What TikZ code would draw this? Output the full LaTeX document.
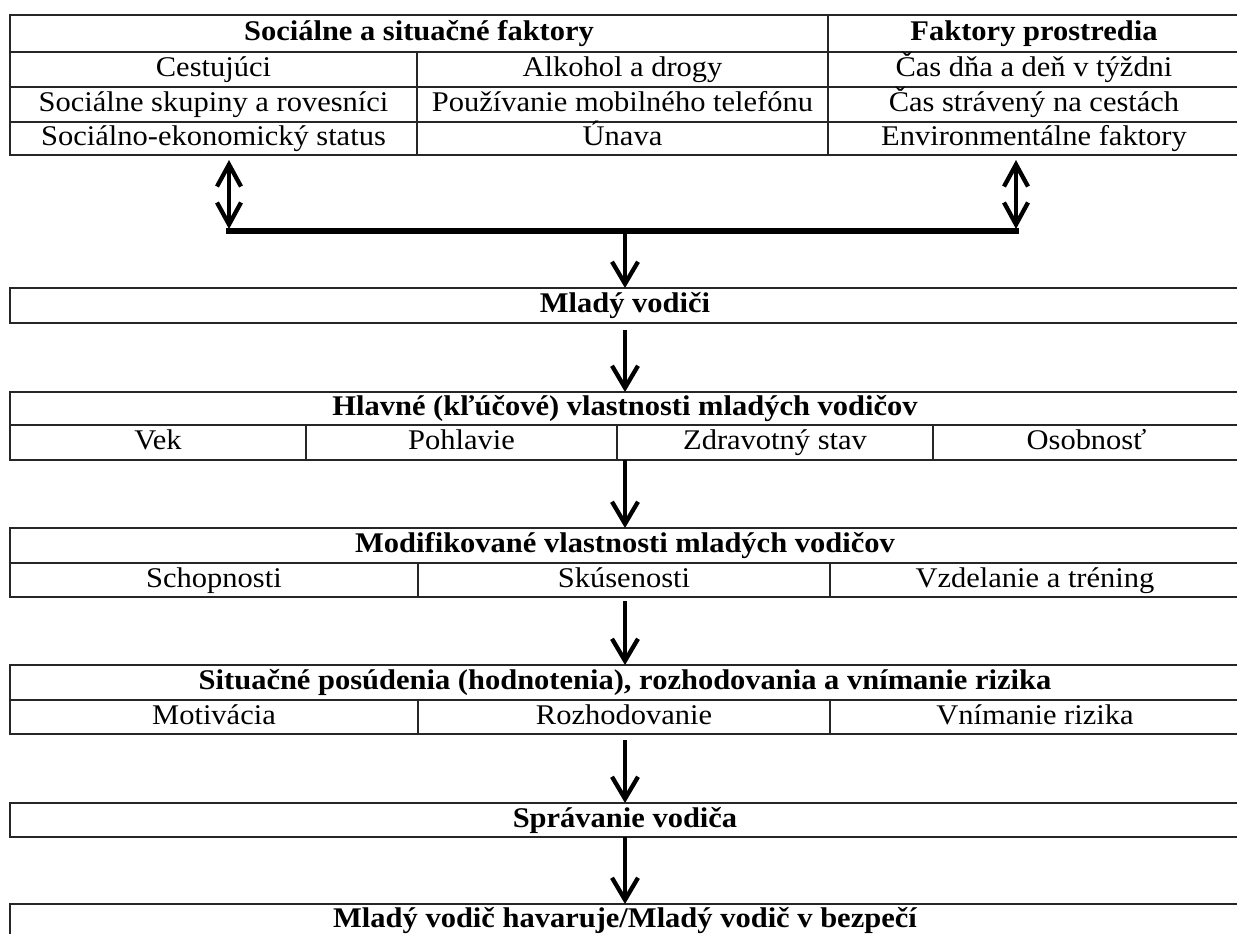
\documentclass[tikz,border=0pt]{standalone}
\usepackage{fontspec}
\setmainfont{Liberation Serif}[FakeStretch=1.07]
\usetikzlibrary{arrows.meta,calc}
\newcommand\mkcell[6]{\node[cell,minimum width={(#4-#2)*1pt},minimum height={(#5-#3)*1pt}] (#1) at ({(#2+#4)/2},{(#3+#5)/2}) {#6};}
\begin{document}
\begin{tikzpicture}[x=1pt,y=-1pt,
  cell/.style={draw=black!85,line width=1.8pt,inner sep=0pt,outer sep=0pt,
    font=\fontsize{28.5}{31}\selectfont,text height=20pt,text depth=6pt},
  arr/.style={line width=4.3pt,-{Straight Barb[length=22pt,width=26pt]}},
  dbl/.style={line width=4.3pt,{Straight Barb[length=22pt,width=24pt]}-{Straight Barb[length=22pt,width=24pt]}},
  bar/.style={line width=6pt}]
\clip (0,0) rectangle (1237,934);
% top table
\mkcell{sT}{10}{15}{828}{52}{\bfseries Sociálne a situačné faktory}
\mkcell{fT}{828}{15}{1240}{52}{\bfseries Faktory prostredia}
\mkcell{a1}{10}{52}{417}{87}{Cestujúci}
\mkcell{b1}{417}{52}{828}{87}{Alkohol a drogy}
\mkcell{c1}{828}{52}{1240}{87}{Čas dňa a deň v týždni}
\mkcell{a2}{10}{87}{417}{122}{Sociálne skupiny a rovesníci}
\mkcell{b2}{417}{87}{828}{122}{Používanie mobilného telefónu}
\mkcell{c2}{828}{87}{1240}{122}{Čas strávený na cestách}
\mkcell{a3}{10}{122}{417}{155}{Sociálno-ekonomický status}
\mkcell{b3}{417}{122}{828}{155}{Únava}
\mkcell{c3}{828}{122}{1240}{155}{Environmentálne faktory}
% junction
\coordinate (bl) at (229,231);
\coordinate (br) at (1016,231);
\coordinate (bm) at (625,231);
\draw[bar,line cap=rect] (bl) -- (br);
\draw[dbl] ([yshift=-5pt]a3.south -| bl) -- ([yshift=2pt]bl);
\draw[dbl] ([yshift=-5pt]c3.south -| br) -- ([yshift=2pt]br);
% Mlady vodici
\mkcell{ml}{10}{288}{1240}{323}{\bfseries Mladý vodiči}
\draw[arr] (bm) -- (ml.north);
% Hlavne
\mkcell{hT}{10}{392}{1240}{425}{\bfseries Hlavné (kľúčové) vlastnosti mladých vodičov}
\mkcell{h1}{10}{425}{306}{460}{Vek}
\mkcell{h2}{306}{425}{617}{460}{Pohlavie}
\mkcell{h3}{617}{425}{933}{460}{Zdravotný stav}
\mkcell{h4}{933}{425}{1240}{460}{Osobnosť}
\draw[arr] ([yshift=-7pt]ml.south) -- (hT.north);
% Modifikovane
\mkcell{mT}{10}{528}{1240}{563}{\bfseries Modifikované vlastnosti mladých vodičov}
\mkcell{m1}{10}{563}{418}{597}{Schopnosti}
\mkcell{m2}{418}{563}{830}{597}{Skúsenosti}
\mkcell{m3}{830}{563}{1240}{597}{Vzdelanie a tréning}
\draw[arr] (hT.north |- h3.south) -- (mT.north);
% Situacne
\mkcell{sS}{10}{665}{1240}{700}{\bfseries Situačné posúdenia (hodnotenia), rozhodovania a vnímanie rizika}
\mkcell{s1}{10}{700}{418}{734}{Motivácia}
\mkcell{s2}{418}{700}{830}{734}{Rozhodovanie}
\mkcell{s3}{830}{700}{1240}{734}{Vnímanie rizika}
\draw[arr] ([yshift=-4pt]mT.north |- m2.south) -- (sS.north);
% Spravanie
\mkcell{sp}{10}{803}{1240}{837}{\bfseries Správanie vodiča}
\draw[arr] ([yshift=-6pt]sS.north |- s2.south) -- (sp.north);
% last
\mkcell{last}{10}{904}{1240}{936}{\bfseries Mladý vodič havaruje/Mladý vodič v bezpečí}
\draw[arr] (sp.south) -- (last.north);
\end{tikzpicture}
\end{document}
